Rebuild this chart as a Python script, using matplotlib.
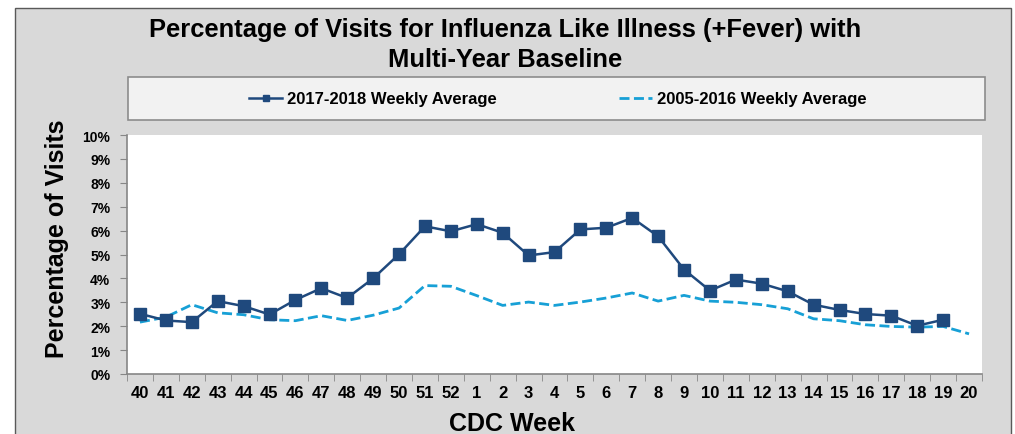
import matplotlib
matplotlib.use('Agg')
import matplotlib.pyplot as plt
from matplotlib.patches import Rectangle

# 字体设置 (Arial 同款)
matplotlib.rcParams['font.family'] = ['Liberation Sans', 'DejaVu Sans']
matplotlib.rcParams['font.weight'] = 'bold'

# 数据
weeks = ['40', '41', '42', '43', '44', '45', '46', '47', '48', '49', '50', '51', '52',
         '1', '2', '3', '4', '5', '6', '7', '8', '9', '10', '11', '12', '13', '14',
         '15', '16', '17', '18', '19', '20']
season_2017 = [2.52, 2.24, 2.17, 3.05, 2.84, 2.49, 3.10, 3.59, 3.18, 4.00, 5.01, 6.18, 5.97,
               6.27, 5.91, 4.96, 5.10, 6.05, 6.12, 6.53, 5.76, 4.37, 3.49, 3.95, 3.78, 3.46,
               2.90, 2.68, 2.51, 2.44, 2.02, 2.27]
baseline = [2.17, 2.38, 2.90, 2.56, 2.48, 2.27, 2.23, 2.44, 2.24, 2.46, 2.76, 3.70, 3.67,
            3.28, 2.87, 3.01, 2.87, 3.01, 3.18, 3.39, 3.05, 3.29, 3.05, 3.00, 2.90, 2.73,
            2.31, 2.23, 2.06, 1.99, 1.96, 1.99, 1.68]
yticks = list(range(0, 11))
series_names = ['2017-2018 Weekly Average', '2005-2016 Weekly Average']

dark_blue = '#1F497D'
light_blue = '#17A0D6'
gray = '#868686'

fig = plt.figure(figsize=(10.15, 4.35), dpi=100)
fig.patch.set_facecolor('white')

# 灰色背景框
fig.patches.append(Rectangle((15 / 1015, -0.05), (1011 - 15) / 1015, 1.05 - 9 / 435,
                             transform=fig.transFigure, facecolor='#D9D9D9',
                             edgecolor='#595959', linewidth=1.0, zorder=-2))
# 图例框
fig.patches.append(Rectangle((128 / 1015, 1 - 121 / 435), (985 - 128) / 1015, 43 / 435,
                             transform=fig.transFigure, facecolor='#F2F2F2',
                             edgecolor='#8C8C8C', linewidth=1.2, zorder=-1))

ax = fig.add_axes([127 / 1015, 1 - 375 / 435, (982 - 127) / 1015, (375 - 136) / 435])
ax.set_zorder(2)
ax.set_facecolor('white')

x = list(range(len(weeks)))
l1, = ax.plot(x[:len(season_2017)], season_2017, color=dark_blue, linewidth=1.8,
              marker='s', markersize=8, label=series_names[0], zorder=3)
l2, = ax.plot(x, baseline, color=light_blue, linewidth=2.0, linestyle=(0, (3.6, 1.6)),
              label=series_names[1], zorder=2)

# 坐标轴
ax.set_xlim(-0.5, len(weeks) - 0.5)
ax.set_ylim(0, 10)
ax.set_yticks(yticks)
ax.set_yticklabels([f'{v}%' for v in yticks], fontsize=10, fontweight='bold')
ax.set_xticks(x)
ax.set_xticklabels(weeks, fontsize=12, fontweight='bold')
ax.set_xticks([i - 0.5 for i in range(len(weeks) + 1)], minor=True)
ax.tick_params(axis='x', which='major', length=0, pad=8)
ax.tick_params(axis='x', which='minor', length=5, color=gray, direction='out')
ax.tick_params(axis='y', length=5, color=gray, pad=7)
for side in ['top', 'right']:
    ax.spines[side].set_visible(False)
for side in ['left', 'bottom']:
    ax.spines[side].set_color(gray)
    ax.spines[side].set_linewidth(1.2)

ax.set_xlabel('CDC Week', fontsize=18, fontweight='bold')
ax.set_ylabel('Percentage of Visits', fontsize=18, fontweight='bold')
# 轴标题位置 (原图不居中)
ax.xaxis.set_label_coords(0.45, -0.155)
ax.yaxis.set_label_coords(-0.068, 0.569)

# 标题
fig.text(505 / 1015, 1 - 30 / 435, 'Percentage of Visits for Influenza Like Illness (+Fever) with',
         ha='center', va='center', fontsize=18.4, fontweight='bold')
fig.text(505 / 1015, 1 - 60 / 435, 'Multi-Year Baseline',
         ha='center', va='center', fontsize=18.4, fontweight='bold')

# 图例
leg = fig.legend(handles=[l1, l2], loc='center', bbox_to_anchor=(558 / 1015, 1 - 100 / 435),
                 ncol=2, frameon=False, fontsize=12, handlelength=2.0, handletextpad=0.3,
                 columnspacing=7.3, markerscale=0.55)
for t in leg.get_texts():
    t.set_fontweight('bold')

fig.savefig('out.png', dpi=100)
